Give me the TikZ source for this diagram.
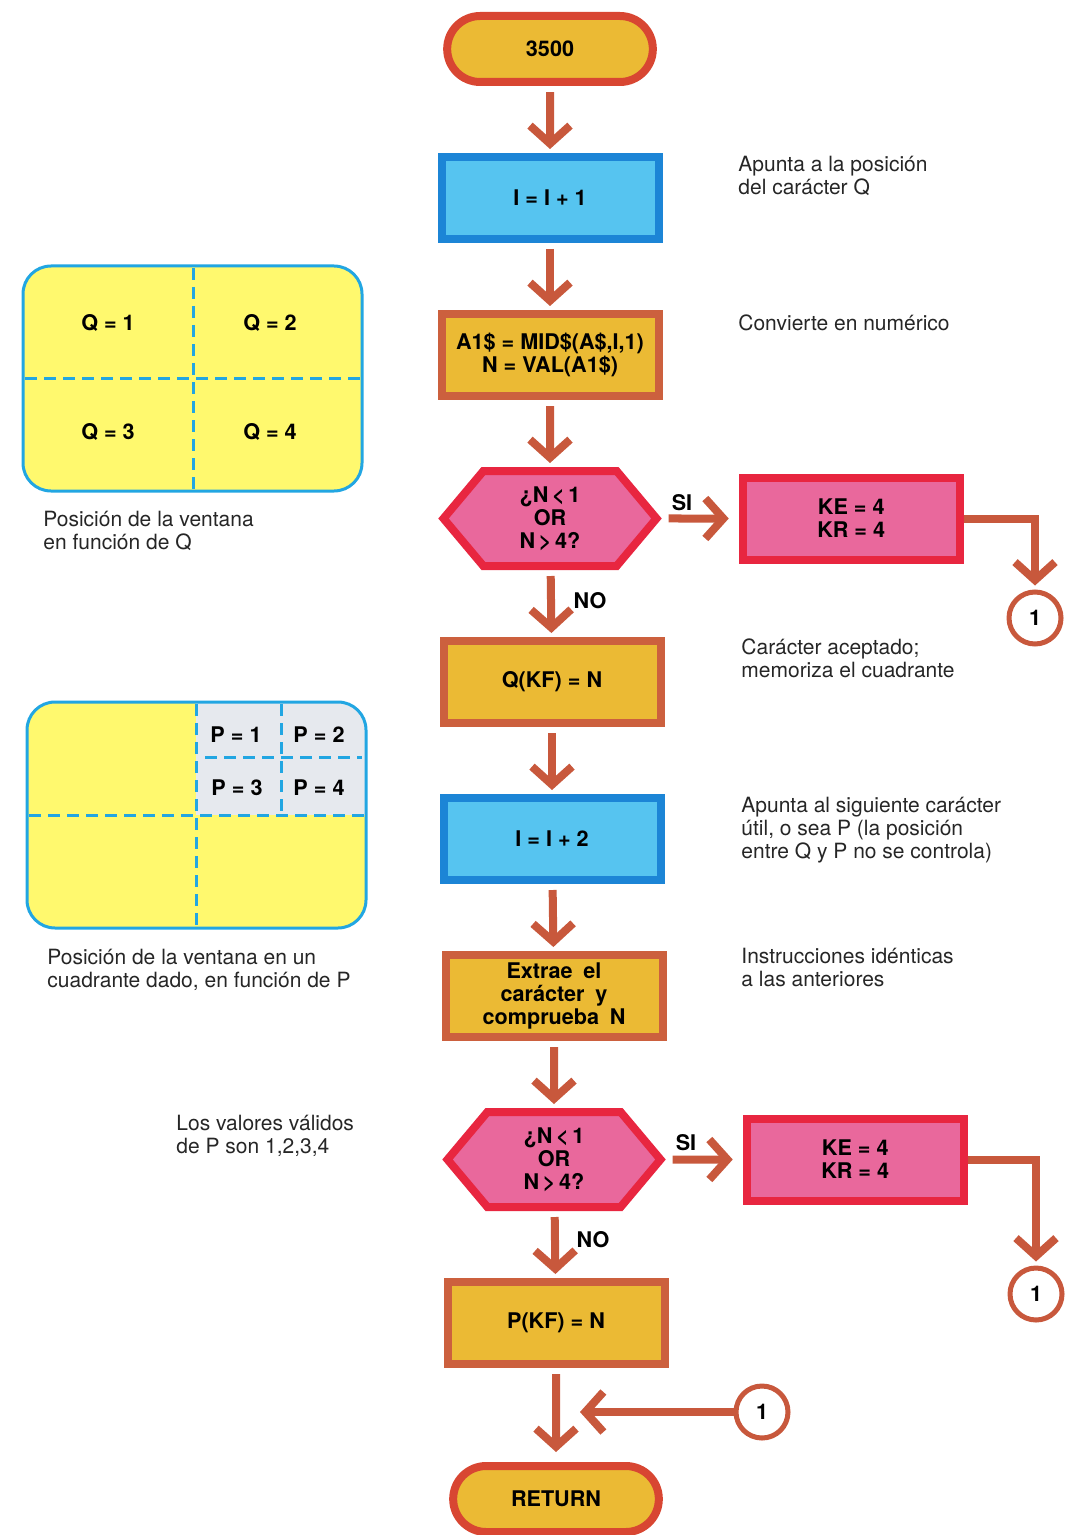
\documentclass[tikz,border=0pt]{standalone}
\usepackage{fontspec}
\setmainfont{TeX Gyre Heros}
\usepackage{xcolor}
\usepackage{tikz}
\usetikzlibrary{shapes.geometric, shapes.misc, shapes.symbols, arrows.meta, positioning}

\definecolor{arrowred}{RGB}{200,88,60}
\definecolor{termred}{RGB}{216,70,50}
\definecolor{boxbrown}{RGB}{204,96,62}
\definecolor{gold}{RGB}{235,186,52}
\definecolor{skyblue}{RGB}{86,196,240}
\definecolor{boxblue}{RGB}{28,133,214}
\definecolor{pinkfill}{RGB}{233,104,156}
\definecolor{pinkred}{RGB}{232,38,64}
\definecolor{paneyellow}{RGB}{255,249,110}
\definecolor{paneblue}{RGB}{34,166,226}
\definecolor{panegray}{RGB}{230,233,238}

\begin{document}
\begin{tikzpicture}[
    x=0.5pt, y=-0.5pt,
    node distance=33.5pt,
    every node/.style={font=\bfseries\fontsize{10.8}{11.5}\selectfont},
    terminal/.style={rounded rectangle, draw=termred, fill=gold, line width=4pt, minimum width=109.5pt, minimum height=33pt},
    process/.style={rectangle, draw=boxbrown, fill=gold, line width=4pt, minimum width=108.5pt, minimum height=41pt, align=center},
    counter/.style={process, draw=boxblue, fill=skyblue},
    decision/.style={signal, signal to=west and east, signal pointer angle=100, draw=pinkred, fill=pinkfill, line width=4pt, minimum width=106.5pt, minimum height=47.5pt, align=center, inner sep=0pt},
    errbox/.style={process, draw=pinkred, fill=pinkfill},
    connector/.style={circle, draw=arrowred, fill=white, line width=2.5pt, minimum size=26pt, inner sep=0pt},
    note/.style={font=\fontsize{10.5}{11.5}\selectfont, align=left, text=black!85, anchor=base west, inner sep=0pt},
    arrow/.style={-{Straight Barb[length=9pt, width=20pt]}, draw=arrowred, line width=4pt},
    panel/.style={fill=paneyellow, draw=paneblue, line width=1.5pt, rounded corners=14pt},
    grid/.style={draw=paneblue, line width=1.5pt, dash pattern=on 6pt off 3.5pt},
    tag/.style={inner sep=0pt}
]
\useasboundingbox (0,0) rectangle (1069,1535);

% main column
\node (n1) [terminal] at (550,49) {3500};
\node (n2) [counter, below=of n1] {I = I + 1};
\node (n3) [process, below=of n2] {A1\$ = MID\$(A\$,I,1)\\N = VAL(A1\$)};
\node (n4) [decision, below=of n3] {¿N\,<\,1\\OR\\N\,>\,4?};
\node (n5) [errbox, right=38.5pt of n4] {KE = 4\\KR = 4};
\node (n6) [process, below=of n4, xshift=1pt] {Q(KF) = N};
\node (n7) [counter, below=of n6] {I = I + 2};
\node (n8) [process, below=of n7, xshift=1pt] {Extrae\enspace el\\carácter\enspace y\\comprueba\enspace N};
\node (n9) [decision, below=of n8] {¿N\,<\,1\\OR\\N\,>\,4?};
\node (n10) [errbox, right=38.5pt of n9] {KE = 4\\KR = 4};
\node (n11) [process, below=of n9, xshift=1pt] {P(KF) = N};
\node (n12) [terminal, below=47pt of n11] {RETURN};

% connectors 1
\node (c1) [connector] at (1035,618) {1};
\node (c2) [connector] at (1036,1294) {1};
\node (c3) [connector] at (762,1412) {1};
\coordinate (j1) at (580,1412);

\draw [arrow, shorten <=3pt, shorten >=2pt] (n1) -- (n2);
\draw [arrow, shorten <=3pt, shorten >=2pt] (n2) -- (n3);
\draw [arrow, shorten <=3pt, shorten >=2pt] (n3) -- (n4);
\draw [arrow, shorten <=3pt, shorten >=2pt] (n4) -- (n6);
\draw [arrow, shorten <=3pt, shorten >=2pt] (n6) -- (n7);
\draw [arrow, shorten <=3pt, shorten >=2pt] (n7) -- (n8);
\draw [arrow, shorten <=3pt, shorten >=2pt] (n8) -- (n9);
\draw [arrow, shorten <=3pt, shorten >=2pt] (n9) -- (n11);
\draw [arrow, shorten <=3pt, shorten >=5pt] (n11) -- (n12);
\draw [arrow, shorten <=3.5pt, shorten >=5pt] (n4) -- (n5);
\draw [arrow, shorten <=3.5pt, shorten >=5pt] (n9) -- (n10);
\draw [arrow, shorten >=2pt] (n5.east) -| (c1.north);
\draw [arrow, shorten >=2pt] (n10.east) -| (c2.north);
\draw [arrow] (c3.west) -- (j1);

\node (si1) [tag] at (682,503) {SI};
\node (no1) [tag] at (590,601) {NO};
\node (si2) [tag] at (686,1143) {SI};
\node (no2) [tag] at (593,1240) {NO};

% notes
\node (t1) [note] at (738,195) {Apunta a la posición\\del carácter Q};
\node (t2) [note] at (738,330) {Convierte en numérico};
\node (t3) [note] at (741,677) {Carácter aceptado;\\memoriza el cuadrante};
\node (t4) [note] at (741,858) {Apunta al siguiente carácter\\útil, o sea P (la posición\\entre Q y P no se controla)};
\node (t5) [note] at (741,986) {Instrucciones idénticas\\a las anteriores};

% window by Q
\draw [panel] (23,266) rectangle (362,491);
\draw [grid] (193,268) -- (193,489);
\draw [grid] (25,378) -- (360,378);
\node (q1) at (108,323) {Q = 1};
\node (q2) at (270,323) {Q = 2};
\node (q3) at (108,432) {Q = 3};
\node (q4) at (270,432) {Q = 4};
\node (t6) [note] at (43,549) {Posición de la ventana\\en función de Q};

% window by P
\fill [panel, draw=none] (27,702) rectangle (366,928);
\begin{scope}
  \clip [rounded corners=14pt] (27,702) rectangle (366,928);
  \fill [panegray] (196,702) rectangle (366,815);
\end{scope}
\draw [panel, fill=none] (27,702) rectangle (366,928);
\draw [grid] (196,704) -- (196,926);
\draw [grid] (29,815) -- (364,815);
\draw [grid] (281,704) -- (281,813);
\draw [grid] (205,757) -- (362,757);
\node (p1) at (236,735) {P = 1};
\node (p2) at (319,735) {P = 2};
\node (p3) at (237,788) {P = 3};
\node (p4) at (319,788) {P = 4};
\node (t7) [note] at (47,987) {Posición de la ventana en un\\cuadrante dado, en función de P};
\node (t8) [note] at (176,1153) {Los valores válidos\\de P son 1,2,3,4};

\end{tikzpicture}
\end{document}
